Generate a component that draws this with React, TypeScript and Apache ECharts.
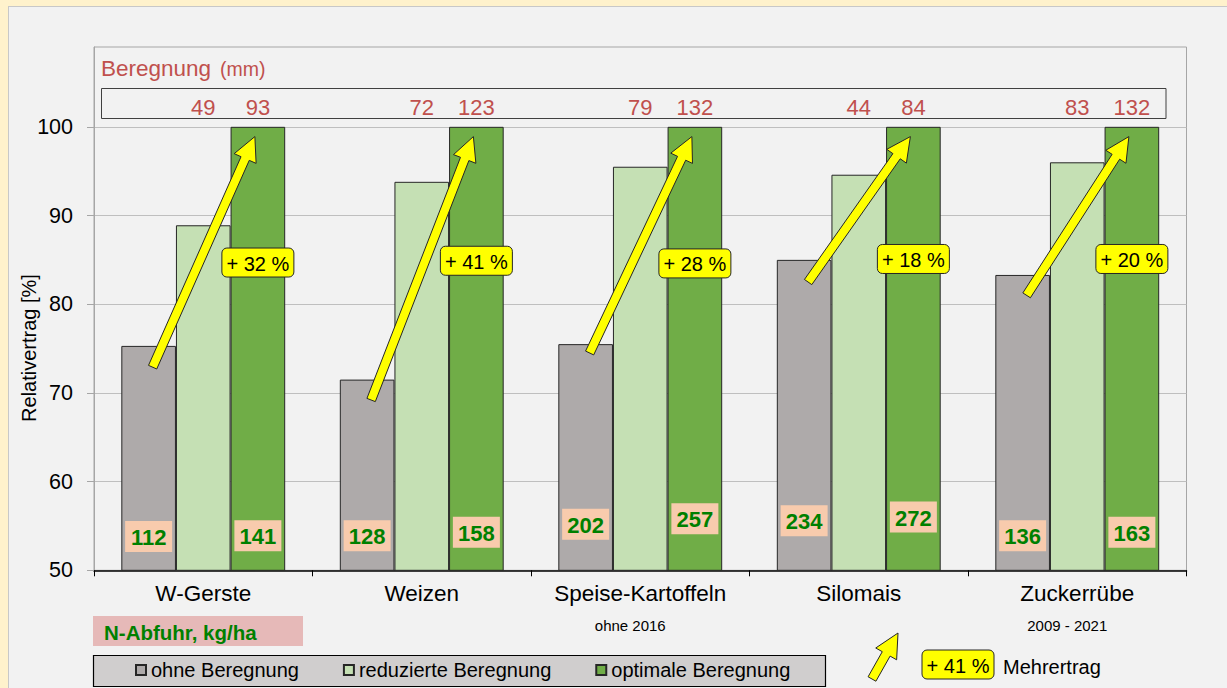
import React, { useEffect, useRef } from "react";
import * as echarts from "echarts";

// ---- data ----
const categories = ["W-Gerste", "Weizen", "Speise-Kartoffeln", "Silomais", "Zuckerrübe"];
const categoryNotes = ["", "", "ohne 2016", "", "2009 - 2021"];
const ohneBeregnung = [75.3, 71.5, 75.5, 85.0, 83.3];
const reduzierteBeregnung = [88.9, 93.8, 95.5, 94.6, 96.0];
const optimaleBeregnung = [100, 100, 100, 100, 100];
const beregnungReduziert = [49, 72, 79, 44, 83];
const beregnungOptimal = [93, 123, 132, 84, 132];
const mehrertragProzent = [32, 41, 28, 18, 20];
const nAbfuhrOhne = [112, 128, 202, 234, 136];
const nAbfuhrOptimal = [141, 158, 257, 272, 163];
const yTickValues = [50, 60, 70, 80, 90, 100];

// annotation anchors (in axis units)
const arrowTailLevel = [72.9, 69.2, 74.5, 82.5, 81.0];
const arrowTipLevel = [98.9, 98.9, 98.9, 98.9, 98.9];
const mehrertragLabelLevel = [84.7, 84.9, 84.6, 85.1, 85.1];
const nLabelOhneLevel = [53.8, 53.9, 55.2, 55.6, 53.9];
const nLabelOptimalLevel = [53.9, 54.3, 55.8, 56.0, 54.3];
const beregnungLabelLevel = 102.2;

const FONT = '"Liberation Sans", Arial, Helvetica, sans-serif';
const RED = "#C0504D";

function arrowPoints(x1: number, y1: number, x2: number, y2: number, shaftHalf: number, headHalf: number, headLen: number) {
  const dx = x2 - x1;
  const dy = y2 - y1;
  const L = Math.hypot(dx, dy);
  const ux = dx / L;
  const uy = dy / L;
  const nx = -uy;
  const ny = ux;
  const bx = x2 - ux * headLen;
  const by = y2 - uy * headLen;
  return [
    [x1 + nx * shaftHalf, y1 + ny * shaftHalf],
    [bx + nx * shaftHalf, by + ny * shaftHalf],
    [bx + nx * headHalf, by + ny * headHalf],
    [x2, y2],
    [bx - nx * headHalf, by - ny * headHalf],
    [bx - nx * shaftHalf, by - ny * shaftHalf],
    [x1 - nx * shaftHalf, y1 - ny * shaftHalf],
  ];
}

export default function App() {
  const ref = useRef<HTMLDivElement>(null);

  useEffect(() => {
    if (!ref.current) return;
    const chart = echarts.init(ref.current, undefined, { renderer: "svg" });

    const barBorder = { borderColor: "#262626", borderWidth: 1 };

    const renderAnnotations = (params: any, api: any) => {
      const i = api.value(0) as number;
      const band = (api.size([1, 0]) as number[])[0];
      const barW = (band * 0.75) / 3;
      const cx = api.coord([i, 100])[0];
      const xOhne = cx - barW;
      const xRed = cx;
      const xOpt = cx + barW;
      const Y = (v: number) => api.coord([i, v])[1];
      const children: any[] = [];

      // irrigation amounts
      children.push({
        type: "text",
        x: xRed,
        y: Y(beregnungLabelLevel),
        style: { text: String(beregnungReduziert[i]), fill: RED, fontSize: 22, fontFamily: FONT, align: "center", verticalAlign: "middle" },
      });
      children.push({
        type: "text",
        x: xOpt,
        y: Y(beregnungLabelLevel),
        style: { text: String(beregnungOptimal[i]), fill: RED, fontSize: 22, fontFamily: FONT, align: "center", verticalAlign: "middle" },
      });

      // arrow
      children.push({
        type: "polygon",
        shape: { points: arrowPoints(xOhne + 4, Y(arrowTailLevel[i]), xOpt - 3, Y(arrowTipLevel[i]), 4.5, 12, 24) },
        style: { fill: "#FFFF00", stroke: "#262626", lineWidth: 1 },
      });

      // Mehrertrag box
      const py = Y(mehrertragLabelLevel[i]);
      children.push({
        type: "rect",
        shape: { x: xOpt - 36, y: py - 14.5, width: 72, height: 29, r: 5 },
        style: { fill: "#FFFF00", stroke: "#262626", lineWidth: 1 },
      });
      children.push({
        type: "text",
        x: xOpt,
        y: py + 1,
        style: { text: `+ ${mehrertragProzent[i]} %`, fill: "#000", fontSize: 20, fontFamily: FONT, align: "center", verticalAlign: "middle" },
      });

      // N-Abfuhr boxes
      const nBoxes = [
        [xOhne, Y(nLabelOhneLevel[i]), nAbfuhrOhne[i]],
        [xOpt, Y(nLabelOptimalLevel[i]), nAbfuhrOptimal[i]],
      ];
      nBoxes.forEach(([bx, by, val]) => {
        children.push({
          type: "rect",
          shape: { x: bx - 23.5, y: by - 15.5, width: 47, height: 31 },
          style: { fill: "#F8CBAD" },
        });
        children.push({
          type: "text",
          x: bx,
          y: by + 1,
          style: { text: String(val), fill: "#008000", fontSize: 22, fontWeight: "bold", fontFamily: FONT, align: "center", verticalAlign: "middle" },
        });
      });

      // category notes below axis labels
      if (categoryNotes[i]) {
        children.push({
          type: "text",
          x: cx - 10,
          y: Y(50) + 55,
          style: { text: categoryNotes[i], fill: "#000", fontSize: 15, fontFamily: FONT, align: "center", verticalAlign: "middle" },
        });
      }

      return { type: "group", children };
    };

    const option: any = {
      animation: false,
      backgroundColor: "transparent",
      textStyle: { fontFamily: FONT },
      grid: {
        left: 94,
        right: 40.5,
        top: 47,
        bottom: 117.7,
        show: true,
        borderColor: "#A6A6A6",
        borderWidth: 1,
        backgroundColor: "transparent",
      },
      legend: {
        data: ["ohne Beregnung", "reduzierte Beregnung", "optimale Beregnung"],
        left: 135,
        top: 660,
        padding: 0,
        itemWidth: 10,
        itemHeight: 10,
        itemGap: 44,
        icon: "rect",
        textStyle: { fontSize: 20, color: "#000", fontFamily: FONT },
        selectedMode: false,
      },
      xAxis: {
        type: "category",
        data: categories,
        axisLine: { lineStyle: { color: "#000", width: 1.5 } },
        axisTick: { show: true, length: 6, lineStyle: { color: "#000" } },
        axisLabel: { fontSize: 22.5, color: "#000", margin: 12, fontFamily: FONT, interval: 0 },
        splitLine: { show: false },
      },
      yAxis: {
        type: "value",
        min: 50,
        max: 109,
        interval: 10,
        axisLine: { show: true, lineStyle: { color: "#A6A6A6" } },
        axisTick: { show: true, length: 7, lineStyle: { color: "#A6A6A6" }, customValues: yTickValues },
        axisLabel: { fontSize: 21.5, color: "#000", margin: 21, fontFamily: FONT, customValues: yTickValues },
        splitLine: { show: true, lineStyle: { color: "#BFBFBF", width: 1 } },
      },
      series: [
        {
          name: "ohne Beregnung",
          type: "bar",
          data: ohneBeregnung,
          barGap: "0%",
          barCategoryGap: "25%",
          itemStyle: { color: "#AEAAAA", ...barBorder },
        },
        {
          name: "reduzierte Beregnung",
          type: "bar",
          data: reduzierteBeregnung,
          barGap: "0%",
          barCategoryGap: "25%",
          itemStyle: { color: "#C5E0B4", ...barBorder },
        },
        {
          name: "optimale Beregnung",
          type: "bar",
          data: optimaleBeregnung,
          barGap: "0%",
          barCategoryGap: "25%",
          itemStyle: { color: "#70AD47", ...barBorder },
        },
        {
          name: "annotations",
          type: "custom",
          z: 5,
          clip: false,
          silent: true,
          data: categories.map((_, i) => [i, 100]),
          renderItem: renderAnnotations,
        },
      ],
      graphic: [
        // Beregnung header
        {
          type: "text",
          x: 101,
          y: 68,
          style: { text: "Beregnung", fill: RED, fontSize: 22.5, fontFamily: FONT, align: "left", verticalAlign: "middle" },
        },
        {
          type: "text",
          x: 220,
          y: 69,
          style: { text: "(mm)", fill: RED, fontSize: 19.5, fontFamily: FONT, align: "left", verticalAlign: "middle" },
        },
        {
          type: "rect",
          shape: { x: 101.5, y: 88.5, width: 1064.5, height: 30 },
          style: { fill: "none", stroke: "#404040", lineWidth: 1 },
        },
        // y axis name
        {
          type: "text",
          x: 29,
          y: 348,
          rotation: Math.PI / 2,
          style: { text: "Relativertrag [%]", fill: "#000", fontSize: 20, fontFamily: FONT, align: "center", verticalAlign: "middle" },
        },
        // N-Abfuhr box
        {
          type: "rect",
          shape: { x: 93, y: 616, width: 210, height: 30 },
          style: { fill: "#E6B9B8" },
        },
        {
          type: "text",
          x: 104,
          y: 632,
          style: { text: "N-Abfuhr, kg/ha", fill: "#008000", fontSize: 20.5, fontWeight: "bold", fontFamily: FONT, align: "left", verticalAlign: "middle" },
        },
        // legend box
        {
          type: "rect",
          z: 0,
          shape: { x: 93.5, y: 655.5, width: 732, height: 31 },
          style: { fill: "#D0CECE", stroke: "#000", lineWidth: 1.2 },
        },
        // key: arrow + Mehrertrag
        {
          type: "polygon",
          shape: { points: arrowPoints(872, 679, 898, 633, 4.5, 12, 24) },
          style: { fill: "#FFFF00", stroke: "#262626", lineWidth: 1 },
        },
        {
          type: "rect",
          shape: { x: 922, y: 650, width: 72, height: 29, r: 5 },
          style: { fill: "#FFFF00", stroke: "#262626", lineWidth: 1 },
        },
        {
          type: "text",
          x: 958,
          y: 665.5,
          style: { text: "+ 41 %", fill: "#000", fontSize: 20, fontFamily: FONT, align: "center", verticalAlign: "middle" },
        },
        {
          type: "text",
          x: 1003,
          y: 667,
          style: { text: "Mehrertrag", fill: "#000", fontSize: 20, fontFamily: FONT, align: "left", verticalAlign: "middle" },
        },
      ],
    };

    chart.setOption(option);
    return () => chart.dispose();
  }, []);

  return (
    <div style={{ position: "fixed", left: 0, top: 0, width: 1227, height: 688, background: "#FFF2CC", overflow: "hidden" }}>
      <div
        style={{
          position: "absolute",
          left: 8,
          top: 6,
          width: 1240,
          height: 700,
          background: "#F2F2F2",
          border: "1px solid #C8C8C8",
        }}
      />
      <div ref={ref} style={{ position: "absolute", left: 0, top: 0, width: 1227, height: 688 }} />
    </div>
  );
}
